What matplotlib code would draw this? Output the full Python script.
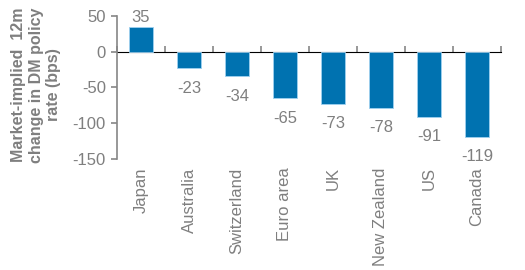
import matplotlib.pyplot as plt
import numpy as np

countries = ['Japan', 'Australia', 'Switzerland', 'Euro area', 'UK', 'New Zealand', 'US', 'Canada']
change_bps = [35, -23, -34, -65, -73, -78, -91, -119]

plt.rcParams['font.family'] = ['Liberation Sans', 'DejaVu Sans']
plt.rcParams['axes.unicode_minus'] = False
grey = '#7f7f7f'
bar_col = '#0072b0'

fig = plt.figure(figsize=(5.25, 2.7), dpi=100)
ax = fig.add_axes([0.223, 0.411, 0.731, 0.530])

x = np.arange(len(countries))
bars = ax.bar(x, change_bps, width=0.5, color=bar_col, edgecolor='#9fd0ef', linewidth=0.6, zorder=2)

for xi, v in zip(x, change_bps):
    if v >= 0:
        ax.annotate(str(v), (xi, v), xytext=(0, 1), textcoords='offset points',
                    ha='center', va='bottom', fontsize=12, color=grey)
    else:
        ax.annotate(str(v), (xi, v), xytext=(0, -9), textcoords='offset points',
                    ha='center', va='top', fontsize=12, color=grey)

ax.set_xlim(-0.5, len(countries) - 0.5)
ax.set_ylim(-150, 50)
ax.set_yticks([50, 0, -50, -100, -150])
ax.tick_params(axis='y', direction='out', length=4, width=1.2, color='#868686',
               labelsize=12, labelcolor=grey, pad=4)

ax.set_xticks(x)
ax.set_xticklabels(countries, rotation=90, fontsize=12, color=grey)
ax.tick_params(axis='x', length=0, pad=6)

for s in ['top', 'right', 'bottom']:
    ax.spines[s].set_visible(False)
ax.spines['left'].set_color('#868686')
ax.spines['left'].set_linewidth(1.2)

# zero line with category boundary ticks
zero = ax.secondary_xaxis(0.75)
zero.set_xticks(np.arange(len(countries) + 1) - 0.5)
zero.set_xticklabels([])
zero.tick_params(axis='x', direction='out', length=4, width=1.2, color='#868686')
zero.spines['bottom'].set_color('#868686')
zero.spines['bottom'].set_linewidth(1.5)

fig.text(0.069, 0.685, 'Market-implied  12m\nchange in DM policy\nrate (bps)', rotation=90,
         ha='center', va='center', fontsize=11.5, fontweight='bold', color=grey, linespacing=1.2)

fig.savefig('out.png', dpi=100)
